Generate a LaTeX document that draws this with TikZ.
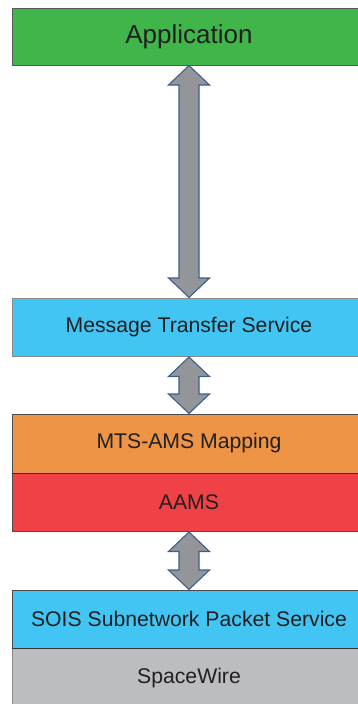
\documentclass[tikz,border=0pt]{standalone}
\usepackage{fontspec}
\setmainfont{Liberation Sans}
\usetikzlibrary{calc}
\definecolor{appgreen}{HTML}{3FB54A}
\definecolor{svcblue}{HTML}{42C5F2}
\definecolor{maporange}{HTML}{EE9447}
\definecolor{aamsred}{HTML}{EF4146}
\definecolor{swgray}{HTML}{BCBDC0}
\definecolor{arrfill}{HTML}{939598}
\definecolor{arrdraw}{HTML}{3C5F8E}
\definecolor{txt}{HTML}{231F20}
\tikzset{
  layer/.style={draw=#1, line width=1pt, minimum width=354pt, inner sep=0pt, text=txt,
    font=\fontsize{21.2}{25}\selectfont},
  dblarr/.style={fill=arrfill, draw=arrdraw, line width=1.1pt, line join=miter}
}
\newcommand\mydblarrow[2]{%
  \draw[dblarr] (#1) -- ($(#1)+(20.5,19.5)$) -- ($(#1)+(10,19.5)$) --
    ($(#2)+(10,-19.5)$) -- ($(#2)+(20.5,-19.5)$) -- (#2) --
    ($(#2)+(-20.5,-19.5)$) -- ($(#2)+(-10,-19.5)$) --
    ($(#1)+(-10,19.5)$) -- ($(#1)+(-20.5,19.5)$) -- cycle;}
\begin{document}
\begin{tikzpicture}[x=1pt,y=-1pt]
\useasboundingbox (0,0) rectangle (358,704);
\node[layer=black!65, fill=appgreen, minimum height=57pt,
  font=\fontsize{26}{30}\selectfont] (app) at (189,36.5) {Application};
\node[layer=black!45, fill=svcblue, minimum height=58.5pt] (mts) at (189,327.25) {Message Transfer Service};
\node[layer=black!70, fill=maporange, minimum height=59pt] (map) at (189,443.5) {MTS-AMS Mapping};
\node[layer=black!70, fill=aamsred, minimum height=58.5pt] (aams) at (189,502.25) {AAMS};
\node[layer=black!70, fill=svcblue, minimum height=58pt] (sois) at (189,619) {SOIS Subnetwork Packet Service};
\node[layer=black!45, fill=swgray, minimum height=60pt] (sw) at (189,678) {SpaceWire};
\draw[black!80, line width=1pt] (map.south west) -- (map.south east);
\draw[black!80, line width=1pt] (sois.south west) -- (sois.south east);
\mydblarrow{app.south}{mts.north}
\mydblarrow{mts.south}{map.north}
\mydblarrow{aams.south}{sois.north}
\end{tikzpicture}
\end{document}
